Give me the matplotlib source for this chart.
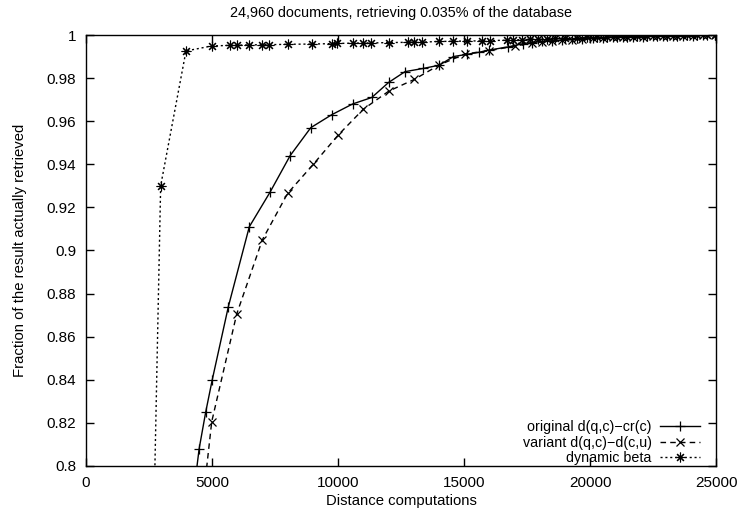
import matplotlib
matplotlib.use("Agg")
import matplotlib.pyplot as plt
from matplotlib.ticker import FuncFormatter, MultipleLocator

plt.rcParams["font.family"] = ["Liberation Sans", "DejaVu Sans"]

# Distance computations vs. fraction of the true result found
orig_x = [4300, 4490, 4750, 5010, 5650, 6480, 7300, 8100, 8920, 9750, 10580,
          11340, 12010, 12660, 13390, 14020, 14580, 15100, 15600, 16000, 16750,
          17350, 17700, 18100, 18500, 18900, 19300, 19700, 20100, 20500, 20900,
          21300, 21700, 22100, 22500, 22900, 23300, 23700, 24100, 24500, 24960]
orig_y = [0.79, 0.808, 0.825, 0.840, 0.874, 0.911, 0.927, 0.944, 0.957, 0.963,
          0.968, 0.971, 0.978, 0.983, 0.9845, 0.986, 0.990, 0.991, 0.992, 0.993,
          0.9945, 0.996, 0.9965, 0.997, 0.9973, 0.9977, 0.998, 0.9983, 0.9986,
          0.9988, 0.999, 0.9991, 0.9992, 0.9993, 0.9994, 0.9995, 0.9996, 0.9997,
          0.9997, 0.9998, 0.9999]

var_x = [4700, 4990, 5980, 7000, 8000, 9020, 10010, 11000, 12020, 13030, 14020,
         15040, 16000, 17020, 17700, 18100, 18500, 18900, 19300, 19700, 20100,
         20500, 20900, 21300, 21700, 22100, 22500, 22900, 23300, 23700, 24100,
         24500, 24960]
var_y = [0.79, 0.8206, 0.8705, 0.905, 0.9265, 0.940, 0.9536, 0.9655, 0.974,
         0.9794, 0.9861, 0.9912, 0.9927, 0.9949, 0.9962, 0.9968, 0.9972, 0.9976,
         0.9979, 0.9982, 0.9985, 0.9987, 0.9989, 0.9991, 0.9992, 0.9993, 0.9994,
         0.9995, 0.9996, 0.9997, 0.9997, 0.9998, 0.9999]

dyn_x = [2700, 2963, 3968, 4988, 5714, 6000, 6480, 6970, 7274, 8028, 8956, 9750,
         9972, 10583, 10980, 11296, 12036, 12766, 13028, 13345, 14020, 14575,
         15107, 15700, 16032, 16694, 16944, 17290, 17619, 17950, 18280, 18611,
         19008, 19470, 19868, 20265, 20662, 21059, 21456, 21853, 22250, 22647,
         23044, 23441, 23838, 24235, 24632, 24960]
dyn_y = [0.78, 0.930, 0.9926, 0.9949, 0.9952, 0.9953, 0.9954, 0.9955, 0.9955,
         0.9957, 0.9958, 0.9960, 0.9961, 0.9962, 0.9963, 0.9963, 0.9965, 0.9966,
         0.9967, 0.9967, 0.9970, 0.9971, 0.9972, 0.9973, 0.9974, 0.9976, 0.9977,
         0.9979, 0.9980, 0.9982, 0.9983, 0.9984, 0.9986, 0.9988, 0.9989, 0.9990,
         0.9991, 0.9992, 0.9993, 0.9994, 0.9995, 0.9996, 0.9997, 0.9997, 0.9998,
         0.9999, 0.9999, 1.0]

labels = ["original d(q,c)\u2212cr(c)", "variant d(q,c)\u2212d(c,u)", "dynamic beta"]

fig = plt.figure(figsize=(7.40, 5.11), dpi=100)
ax = fig.add_axes([0.1162, 0.0881, 0.8514, 0.8434])

ax.plot(orig_x, orig_y, color="black", lw=1.0, linestyle="-",
        marker="+", markersize=7, markeredgewidth=0.9, label=labels[0])
ax.plot(var_x, var_y, color="black", lw=1.0, linestyle=(0, (4, 3)),
        marker="x", markersize=6, markeredgewidth=0.9, label=labels[1])
ax.plot(dyn_x, dyn_y, color="black", lw=1.0, linestyle=(0, (1.5, 2)),
        marker=(8, 2, 0), markersize=7, markeredgewidth=0.8, label=labels[2])

ax.set_xlim(0, 25000)
ax.set_ylim(0.8, 1.0)
ax.xaxis.set_major_locator(MultipleLocator(5000))
ax.yaxis.set_major_locator(MultipleLocator(0.02))
ax.yaxis.set_major_formatter(FuncFormatter(lambda v, p: f"{round(v, 4):g}"))
ax.tick_params(direction="in", length=6, width=1.0, top=True, right=True,
               labelsize=11, pad=7)
for s in ax.spines.values():
    s.set_linewidth(1.0)

ax.set_title("24,960 documents, retrieving 0.035% of the database",
             fontsize=10.4, pad=13)
ax.set_xlabel("Distance computations", fontsize=10.7, labelpad=3)
ax.set_ylabel("Fraction of the result actually retrieved", fontsize=10.7,
              labelpad=14)

ax.legend(loc="lower right", bbox_to_anchor=(0.984, -0.012), frameon=False,
          markerfirst=False, fontsize=10.3, handlelength=2.8, labelspacing=0.12,
          handletextpad=0.6, borderaxespad=0.0)

fig.savefig("out.png", dpi=100)
